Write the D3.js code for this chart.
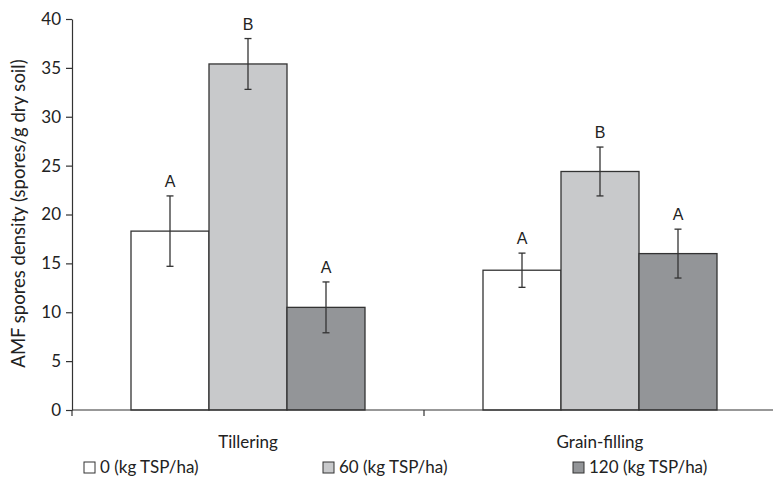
<!DOCTYPE html>
<html>
<head>
<meta charset="utf-8">
<script src="https://cdn.jsdelivr.net/npm/d3@7"></script>
<style>
  body { margin: 0; background: #fff; }
  svg { display: block; }
  .axis path, .axis line { stroke: #333; stroke-width: 1.2px; }
  .axis text { font-family: Lato, "Open Sans", sans-serif; font-size: 17px; fill: #222; }
</style>
</head>
<body>
<script>
// chart data
var stages = ["Tillering", "Grain-filling"];
var doses = ["0 (kg TSP/ha)", "60 (kg TSP/ha)", "120 (kg TSP/ha)"];
var means = [[18.3, 35.4, 10.5], [14.3, 24.4, 16.0]];
var errors = [[3.6, 2.6, 2.6], [1.75, 2.5, 2.5]];
var letters = [["A", "B", "A"], ["A", "B", "A"]];
var yTicks = [0, 5, 10, 15, 20, 25, 30, 35, 40];

var fills = ["#ffffff", "#c8c9cb", "#939598"];

var width = 773,
    height = 481;

var margin = {top: 19, right: 0, bottom: 71, left: 72};

var svg = d3.select("body").append("svg")
    .attr("width", width)
    .attr("height", height);

var x0 = d3.scaleBand()
    .domain(stages)
    .range([margin.left, margin.left + 704]);

// bars inside each group, ~59px gap at each side
var x1 = d3.scaleBand()
    .domain(d3.range(doses.length))
    .range([59, x0.bandwidth() - 59]);

var y = d3.scaleLinear()
    .domain([0, 40])
    .range([height - margin.bottom, margin.top]);

// y axis
svg.append("g")
    .attr("class", "axis")
    .attr("transform", "translate(" + margin.left + ",0)")
    .call(d3.axisLeft(y).tickValues(yTicks).tickSize(6).tickSizeOuter(0).tickPadding(5));

var table = [];
stages.forEach(function(s, i) {
    doses.forEach(function(d, j) {
        table.push({stage: s, dose: j, mean: means[i][j], err: errors[i][j], letter: letters[i][j]});
    });
});

var groups = svg.selectAll(".bar")
    .data(table)
    .enter().append("g")
    .attr("class", "bar")
    .attr("transform", function(d) { return "translate(" + x0(d.stage) + ",0)"; });

groups.append("rect")
    .attr("x", function(d) { return x1(d.dose); })
    .attr("y", function(d) { return y(d.mean); })
    .attr("width", x1.bandwidth())
    .attr("height", function(d) { return y(0) - y(d.mean); })
    .style("fill", function(d) { return fills[d.dose]; })
    .style("stroke", "#333")
    .style("stroke-width", "1.3px");

// error bars
var cx = function(d) { return x1(d.dose) + x1.bandwidth() / 2; };
groups.append("line")
    .attr("x1", cx).attr("x2", cx)
    .attr("y1", function(d) { return y(d.mean + d.err); })
    .attr("y2", function(d) { return y(d.mean - d.err); })
    .style("stroke", "#333").style("stroke-width", "1.3px");
[1, -1].forEach(function(sign) {
    groups.append("line")
        .attr("x1", function(d) { return cx(d) - 3.5; })
        .attr("x2", function(d) { return cx(d) + 3.5; })
        .attr("y1", function(d) { return y(d.mean + sign * d.err); })
        .attr("y2", function(d) { return y(d.mean + sign * d.err); })
        .style("stroke", "#333").style("stroke-width", "1.3px");
});

groups.append("text")
    .attr("x", cx)
    .attr("y", function(d) { return y(d.mean + d.err) - 9; })
    .attr("text-anchor", "middle")
    .style("font-family", "Arial, 'Liberation Sans', sans-serif")
    .style("font-size", "16px")
    .style("fill", "#222")
    .text(function(d) { return d.letter; });

// x axis
var xAxis = svg.append("g")
    .attr("class", "axis")
    .attr("transform", "translate(0," + y(0) + ")");
xAxis.append("line")
    .attr("x1", margin.left).attr("x2", width)
    .attr("y1", 0).attr("y2", 0);
xAxis.selectAll(".tk")
    .data([x0.range()[0]].concat(stages.slice(1).map(function(s) { return x0(s); })))
    .enter().append("line")
    .attr("x1", function(d) { return d; }).attr("x2", function(d) { return d; })
    .attr("y1", 0).attr("y2", 6);
xAxis.selectAll(".lbl")
    .data(stages)
    .enter().append("text")
    .attr("x", function(d) { return x0(d) + x0.bandwidth() / 2; })
    .attr("y", 38)
    .attr("text-anchor", "middle")
    .text(function(d) { return d; });

// y title
svg.append("text")
    .attr("transform", "translate(25," + y(20.1) + ") rotate(-90)")
    .attr("text-anchor", "middle")
    .style("font-family", "Lato, 'Open Sans', sans-serif")
    .style("font-size", "18.5px")
    .style("fill", "#222")
    .text("AMF spores density (spores/g dry soil)");

// legend
var legendX = [84, 323, 573];
var legend = svg.selectAll(".legend")
    .data(doses)
    .enter().append("g")
    .attr("class", "legend")
    .attr("transform", function(d, i) { return "translate(" + legendX[i] + ",467)"; });
legend.append("rect")
    .attr("x", 0).attr("y", -5)
    .attr("width", 11).attr("height", 11)
    .style("fill", function(d, i) { return fills[i]; })
    .style("stroke", "#333")
    .style("stroke-width", "1px");
legend.append("text")
    .attr("x", 16)
    .attr("dy", "0.35em")
    .style("font-family", "Lato, 'Open Sans', sans-serif")
    .style("font-size", "17px")
    .style("fill", "#222")
    .text(function(d) { return d; });
</script>
</body>
</html>
